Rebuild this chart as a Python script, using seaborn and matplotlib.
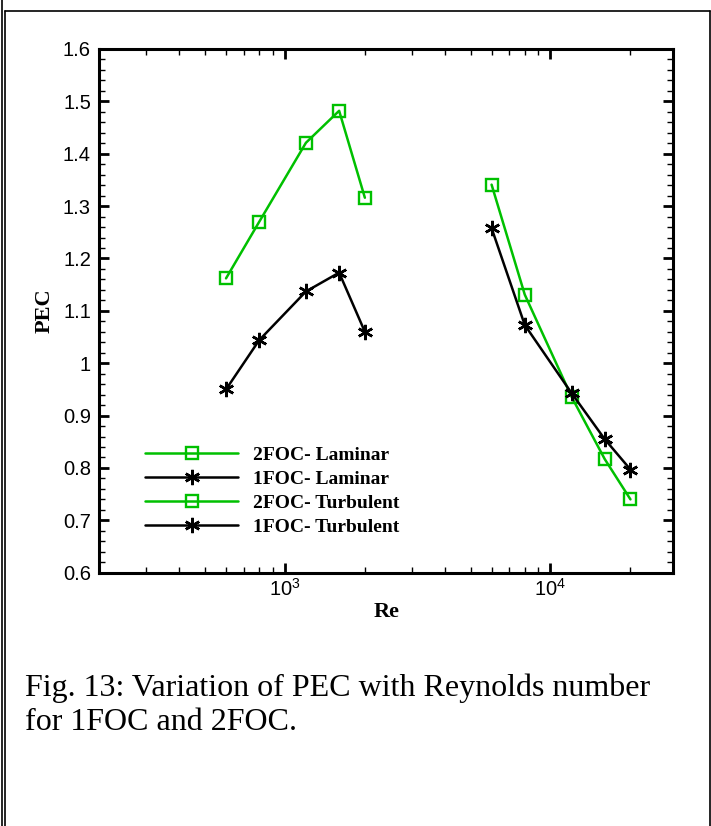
import numpy as np
import pandas as pd
import matplotlib
matplotlib.use("Agg")
import matplotlib.pyplot as plt
from matplotlib.lines import Line2D
from matplotlib.ticker import FixedLocator, FuncFormatter, LogLocator
import seaborn as sns

# Reynolds numbers for the two flow regimes
re_laminar = [600, 800, 1200, 1600, 2000]
re_turbulent = [6000, 8000, 12000, 16000, 20000]

# Performance evaluation criterion for each configuration
pec_2foc_laminar = [1.162, 1.270, 1.421, 1.482, 1.316]
pec_1foc_laminar = [0.950, 1.044, 1.137, 1.173, 1.060]
pec_2foc_turbulent = [1.341, 1.131, 0.936, 0.817, 0.740]
pec_1foc_turbulent = [1.258, 1.073, 0.943, 0.855, 0.797]

series_names = ["2FOC- Laminar", "1FOC- Laminar", "2FOC- Turbulent", "1FOC- Turbulent"]
y_ticks = [0.6, 0.7, 0.8, 0.9, 1.0, 1.1, 1.2, 1.3, 1.4, 1.5, 1.6]

GREEN = "#00C000"
ASTERISK = (6, 2, 0)
series = [
    (series_names[0], re_laminar, pec_2foc_laminar, GREEN, "s"),
    (series_names[1], re_laminar, pec_1foc_laminar, "black", ASTERISK),
    (series_names[2], re_turbulent, pec_2foc_turbulent, GREEN, "s"),
    (series_names[3], re_turbulent, pec_1foc_turbulent, "black", ASTERISK),
]

sns.set_style("white")
plt.rcParams["font.family"] = ["Liberation Sans", "DejaVu Sans"]
plt.rcParams["mathtext.fontset"] = "custom"
plt.rcParams["mathtext.rm"] = "Liberation Sans"
for key in ["text.color", "axes.labelcolor", "xtick.color", "ytick.color",
            "axes.edgecolor"]:
    plt.rcParams[key] = "black"

SERIF = ["Liberation Serif", "DejaVu Serif"]

W, H = 711, 826
fig = plt.figure(figsize=(W / 100, H / 100), dpi=100)
ax_l, ax_r, ax_t, ax_b = 99.3, 673.3, 49.0, 572.7
ax = fig.add_axes([ax_l / W, 1 - ax_b / H, (ax_r - ax_l) / W, (ax_b - ax_t) / H])

for name, re_vals, pec_vals, color, marker in series:
    d = pd.DataFrame({"Re": re_vals, "PEC": pec_vals})
    if marker == "s":
        style = dict(markersize=8.5, markerfacecolor="none",
                     markeredgecolor=color, markeredgewidth=1.7)
    else:
        style = dict(markersize=11, markeredgecolor=color, markeredgewidth=1.8)
    sns.lineplot(data=d, x="Re", y="PEC", color=color, marker=marker,
                 linewidth=1.8, label=name, ax=ax, **style)

ax.set_xscale("log")
ax.set_xlim(200, 29000)
ax.set_ylim(0.6, 1.6)

ax.xaxis.set_major_locator(FixedLocator([1e3, 1e4]))
ax.xaxis.set_minor_locator(LogLocator(base=10, subs=np.arange(2, 10)))
ax.xaxis.set_major_formatter(FuncFormatter(
    lambda v, p: r"$\mathregular{10^{%d}}$" % round(np.log10(v))))
ax.xaxis.set_minor_formatter(FuncFormatter(lambda v, p: ""))

ax.yaxis.set_major_locator(FixedLocator(y_ticks))
ax.yaxis.set_minor_locator(FixedLocator(np.arange(0.6, 1.6001, 0.02)))
ax.yaxis.set_major_formatter(FuncFormatter(lambda v, p: f"{v:g}"))

for side in ["left", "right", "top", "bottom"]:
    ax.spines[side].set_visible(True)
    ax.spines[side].set_linewidth(2.2)
    ax.spines[side].set_color("black")

ax.tick_params(which="both", direction="in", top=True, right=True,
               bottom=True, left=True, color="black")
ax.tick_params(which="major", length=7.5, width=2.0, labelsize=14.5,
               labelcolor="black")
ax.tick_params(axis="y", which="major", pad=6.0)
ax.tick_params(axis="x", which="major", pad=4)
ax.tick_params(which="minor", length=4.5, width=1.0)

ax.set_xlabel("Re", fontsize=16, fontweight="bold", family=SERIF, labelpad=1)
ax.set_ylabel("PEC", fontsize=16, fontweight="bold", family=SERIF, labelpad=6)

handles, labels = ax.get_legend_handles_labels()
ax.legend(handles, labels, loc="upper left", bbox_to_anchor=(145 / W, 1 - 446 / H),
          bbox_transform=fig.transFigure, frameon=False,
          borderpad=0, borderaxespad=0, handlelength=4.8,
          handletextpad=0.75, labelspacing=0.33, numpoints=1,
          prop={"family": SERIF, "weight": "bold", "size": 14})

# Caption below the plot
fig.text(25 / W, 1 - 688 / H, "Fig. 13: Variation of PEC with Reynolds number",
         fontsize=23, family=SERIF, color="black", ha="left", va="center")
fig.text(25 / W, 1 - 723 / H, "for 1FOC and 2FOC.",
         fontsize=23, family=SERIF, color="black", ha="left", va="center")

# Page frame around the figure cell
def frame_line(xs, ys, lw=1.2):
    fig.add_artist(Line2D([x / W for x in xs], [1 - y / H for y in ys],
                          transform=fig.transFigure, color="black", lw=lw))

frame_line([5, 709.5], [11, 11])
frame_line([5, 5], [11, 826])
frame_line([2, 2], [0, 826])
frame_line([709.5, 709.5], [11, 826])

fig.savefig("out.png", dpi=100)
